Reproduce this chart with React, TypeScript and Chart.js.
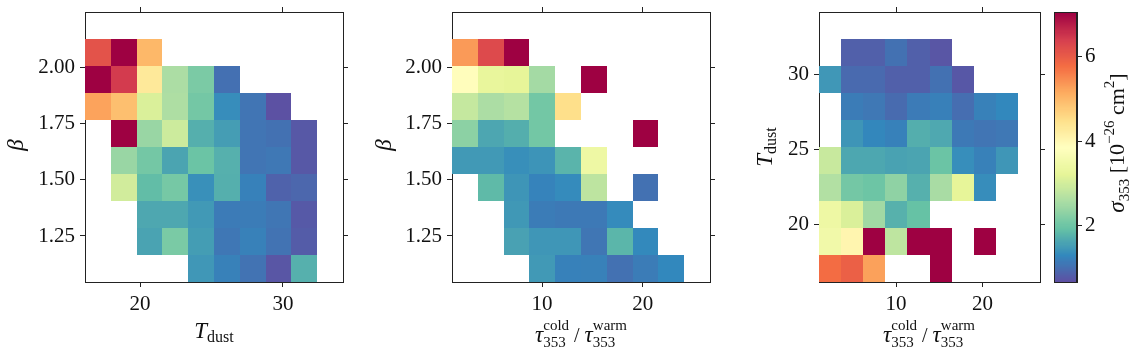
import React, { useEffect, useRef } from "react";
import { Chart, registerables } from "chart.js";
Chart.register(...registerables);

// ---------------- data ----------------
const N_BINS = 10;
const TDUST_RANGE = [16.15, 34.2];
const BETA_RANGE = [1.045, 2.248];
const RATIO_RANGE = [1.06, 26.68];
const SIGMA_RANGE = [0.675, 7.06];

const TDUST_TICKS_X = [20, 30];
const TDUST_TICKS_Y = [20, 25, 30];
const BETA_TICKS = [1.25, 1.5, 1.75, 2.0];
const RATIO_TICKS = [10, 20];
const SIGMA_TICKS = [2, 4, 6];

const _ = null;
// rows listed from top (highest bin) to bottom (lowest bin); columns left to right
const betaVsTdust: (number | null)[][] = [
  [_, _, _, _, _, _, _, _, _, _],
  [6.13, 7.1, 5.02, _, _, _, _, _, _, _],
  [7.1, 6.45, 4.32, 2.6, 2.15, 1.05, _, _, _, _],
  [5.25, 4.93, 3.1, 2.62, 2.08, 1.37, 1.1, 0.7, _, _],
  [_, 7.1, 2.42, 2.95, 1.74, 1.55, 1.1, 1.06, 0.78, _],
  [_, 2.42, 2.08, 1.62, 2.0, 1.75, 1.1, 1.13, 0.78, _],
  [_, 3.0, 1.9, 2.1, 1.4, 1.74, 1.24, 0.89, 0.94, _],
  [_, _, 1.66, 1.66, 1.5, 1.17, 1.18, 1.11, 0.79, _],
  [_, _, 1.61, 2.14, 1.54, 1.12, 1.23, 1.08, 0.82, _],
  [_, _, _, _, 1.48, 1.23, 1.08, 0.75, 1.75, _],
];

const betaVsRatio: (number | null)[][] = [
  [_, _, _, _, _, _, _, _, _, _],
  [5.34, 6.26, 7.1, _, _, _, _, _, _, _],
  [3.9, 3.3, 3.25, 2.53, _, 7.1, _, _, _, _],
  [2.87, 2.6, 2.7, 2.07, 4.51, _, _, _, _, _],
  [2.3, 1.64, 1.73, 2.07, _, _, _, 7.1, _, _],
  [1.5, 1.5, 1.39, 1.45, 1.8, 3.43, _, _, _, _],
  [_, 1.86, 1.46, 1.26, 1.35, 2.78, _, 1.06, _, _],
  [_, _, 1.49, 1.18, 1.15, 1.15, 1.35, _, _, _],
  [_, _, 1.59, 1.47, 1.47, 1.11, 1.82, 1.33, _, _],
  [_, _, _, 1.5, 1.24, 1.23, 1.06, 1.18, 1.31, _],
];

const tdustVsRatio: (number | null)[][] = [
  [_, _, _, _, _, _, _, _, _, _],
  [_, 0.87, 0.86, 1.06, 0.86, 0.75, _, _, _, _],
  [1.48, 0.98, 0.98, 0.86, 0.87, 1.06, 0.77, _, _, _],
  [_, 1.18, 1.13, 0.99, 1.17, 1.22, 1.02, 1.23, 1.31, _],
  [_, 1.46, 1.3, 1.24, 1.73, 1.67, 1.15, 1.1, 1.13, _],
  [2.9, 1.65, 1.65, 1.6, 1.62, 2.0, 1.38, 1.23, 1.47, _],
  [2.67, 2.08, 2.02, 2.33, 1.75, 2.57, 3.25, 1.37, _, _],
  [3.43, 3.1, 2.5, 1.77, 1.95, _, _, _, _, _],
  [3.5, 4.07, 7.1, 2.8, 7.1, 7.1, _, 7.1, _, _],
  [5.8, 5.96, 5.27, _, _, 7.1, _, _, _, _],
];

// ---------------- style ----------------
const SPECTRAL_R = [
  "#5e4fa2", "#3288bd", "#66c2a5", "#abdda4", "#e6f598", "#ffffbf",
  "#fee08b", "#fdae61", "#f46d43", "#d53e4f", "#9e0142",
];
const FAMILY = "'Liberation Serif', 'DejaVu Serif', serif";
const AX = "#222222";
const TXT = "#111111";
const TICK_FONT = { family: FAMILY, size: 21 };

function hexRgb(h: string) {
  return [parseInt(h.slice(1, 3), 16), parseInt(h.slice(3, 5), 16), parseInt(h.slice(5, 7), 16)];
}
const CM = SPECTRAL_R.map(hexRgb);
function cmap(v: number) {
  let t = (v - SIGMA_RANGE[0]) / (SIGMA_RANGE[1] - SIGMA_RANGE[0]);
  t = Math.max(0, Math.min(1, t));
  const p = t * (CM.length - 1);
  const i = Math.min(CM.length - 2, Math.floor(p));
  const f = p - i;
  const a = CM[i], b = CM[i + 1];
  const c = a.map((x, k) => Math.round(x + (b[k] - x) * f));
  return `rgb(${c[0]},${c[1]},${c[2]})`;
}

type Seg = { t: string; size: number; dy?: number; italic?: boolean; stack?: boolean };
type MathLabel = { segs: Seg[]; x: number; y: number; rot?: boolean };

function drawMath(ctx: CanvasRenderingContext2D, lab: MathLabel) {
  ctx.save();
  ctx.translate(lab.x, lab.y);
  if (lab.rot) ctx.rotate(-Math.PI / 2);
  ctx.fillStyle = TXT;
  ctx.textBaseline = "alphabetic";
  ctx.textAlign = "left";
  const placed: { s: Seg; start: number }[] = [];
  let cursor = 0;
  let prevStart = 0;
  for (const s of lab.segs) {
    ctx.font = `${s.italic ? "italic " : ""}${s.size}px ${FAMILY}`;
    const w = ctx.measureText(s.t).width;
    if (s.stack) {
      placed.push({ s, start: prevStart });
      cursor = Math.max(cursor, prevStart + w);
    } else {
      placed.push({ s, start: cursor });
      prevStart = cursor;
      cursor += w;
    }
  }
  const off = -cursor / 2;
  for (const p of placed) {
    ctx.font = `${p.s.italic ? "italic " : ""}${p.s.size}px ${FAMILY}`;
    ctx.fillText(p.s.t, off + p.start, p.s.dy || 0);
  }
  ctx.restore();
}

function labelPlugin(labels: MathLabel[]) {
  return {
    id: "mathLabels",
    afterDraw(chart: any) {
      for (const l of labels) drawMath(chart.ctx, l);
    },
  };
}

function heatPlugin(values: (number | null)[][], xr: number[], yr: number[]) {
  return {
    id: "heat",
    beforeDatasetsDraw(chart: any) {
      const { ctx, chartArea } = chart;
      const xs = chart.scales.x;
      const ys = chart.scales.y;
      const dx = (xr[1] - xr[0]) / N_BINS;
      const dy = (yr[1] - yr[0]) / N_BINS;
      ctx.save();
      ctx.beginPath();
      ctx.rect(chartArea.left, chartArea.top, chartArea.right - chartArea.left, chartArea.bottom - chartArea.top);
      ctx.clip();
      const nRows = values.length;
      values.forEach((row, ri) => {
        const r = nRows - 1 - ri;
        row.forEach((v, c) => {
          if (v === null) return;
          const x0 = Math.round(xs.getPixelForValue(xr[0] + c * dx));
          const x1 = Math.round(xs.getPixelForValue(xr[0] + (c + 1) * dx));
          const y0 = Math.round(ys.getPixelForValue(yr[0] + (r + 1) * dy));
          const y1 = Math.round(ys.getPixelForValue(yr[0] + r * dy));
          ctx.fillStyle = cmap(v);
          ctx.fillRect(x0, y0, x1 - x0, y1 - y0);
        });
      });
      ctx.restore();
    },
  };
}

function axis(
  range: number[], ticks: number[], fmt: (v: number) => string,
  position: string, size: number, showLabels: boolean, pad = 5
) {
  const vertical = position === "left" || position === "right";
  return {
    type: "linear",
    position,
    min: range[0],
    max: range[1],
    z: 1,
    afterBuildTicks: (s: any) => {
      s.ticks = ticks.map((v) => ({ value: v }));
    },
    afterFit: (s: any) => {
      if (vertical) s.width = size;
      else s.height = size;
      s.paddingLeft = 0;
      s.paddingRight = 0;
      s.paddingTop = 0;
      s.paddingBottom = 0;
    },
    grid: { drawOnChartArea: false, drawTicks: true, tickLength: 5, tickColor: AX, color: AX, lineWidth: 1, tickWidth: 1 },
    border: { display: true, color: AX, width: 1 },
    ticks: {
      display: showLabels,
      padding: pad,
      maxRotation: 0,
      minRotation: 0,
      autoSkip: false,
      color: TXT,
      font: TICK_FONT,
      callback: (v: any) => fmt(Number(v)),
    },
  };
}

const fmtInt = (v: number) => String(Math.round(v));
const fmt2 = (v: number) => v.toFixed(2);

function heatChart(
  canvas: HTMLCanvasElement, values: (number | null)[][],
  xr: number[], yr: number[], xt: number[], yt: number[], yfmt: (v: number) => string,
  leftW: number, rightW: number, labels: MathLabel[]
) {
  return new Chart(canvas, {
    type: "scatter",
    data: { datasets: [{ data: [], pointRadius: 0 }] },
    options: {
      animation: false,
      responsive: false,
      events: [],
      layout: { padding: 0 },
      plugins: { legend: { display: false }, tooltip: { enabled: false } },
      scales: {
        x: axis(xr, xt, fmtInt, "bottom", 72, true),
        x2: axis(xr, xt, fmtInt, "top", 12, false),
        y: axis(yr, yt, yfmt, "left", leftW, true),
        y2: axis(yr, yt, yfmt, "right", rightW, false),
      } as any,
    },
    plugins: [heatPlugin(values, xr, yr), labelPlugin(labels)],
  } as any);
}

const ratioLabel = (x: number): MathLabel => ({
  x,
  y: 341.5,
  segs: [
    { t: "τ", size: 23, italic: true },
    { t: "cold", size: 15, dy: -11.5 },
    { t: "353", size: 15, dy: 5, stack: true },
    { t: " / ", size: 20 },
    { t: "τ", size: 23, italic: true },
    { t: "warm", size: 15, dy: -11.5 },
    { t: "353", size: 15, dy: 5, stack: true },
  ],
});

export default function App() {
  const r1 = useRef<HTMLCanvasElement>(null);
  const r2 = useRef<HTMLCanvasElement>(null);
  const r3 = useRef<HTMLCanvasElement>(null);
  const r4 = useRef<HTMLCanvasElement>(null);

  useEffect(() => {
    const charts: Chart[] = [];
    charts.push(
      heatChart(r1.current!, betaVsTdust, TDUST_RANGE, BETA_RANGE, TDUST_TICKS_X, BETA_TICKS, fmt2, 85, 27, [
        { x: 214, y: 338, segs: [{ t: "T", size: 23, italic: true }, { t: "dust", size: 16, dy: 4 }] },
        { x: 23, y: 145, rot: true, segs: [{ t: "β", size: 23, italic: true }] },
      ])
    );
    charts.push(
      heatChart(r2.current!, betaVsRatio, RATIO_RANGE, BETA_RANGE, RATIO_TICKS, BETA_TICKS, fmt2, 82, 10, [
        ratioLabel(581 - 370),
        { x: 391 - 370, y: 145, rot: true, segs: [{ t: "β", size: 23, italic: true }] },
      ])
    );
    charts.push(
      heatChart(r3.current!, tdustVsRatio, RATIO_RANGE, TDUST_RANGE, RATIO_TICKS, TDUST_TICKS_Y, fmtInt, 99, 6, [
        ratioLabel(929 - 720),
        { x: 772 - 720, y: 147, rot: true, segs: [{ t: "T", size: 23, italic: true }, { t: "dust", size: 16, dy: 4 }] },
      ])
    );
    const colorbarPlugin = {
      id: "colorbar",
      beforeDatasetsDraw(chart: any) {
        const { ctx, chartArea } = chart;
        const ys = chart.scales.y;
        const n = 256;
        const step = (SIGMA_RANGE[1] - SIGMA_RANGE[0]) / n;
        for (let i = 0; i < n; i++) {
          const v0 = SIGMA_RANGE[0] + i * step;
          const y0 = ys.getPixelForValue(v0 + step);
          const y1 = ys.getPixelForValue(v0);
          ctx.fillStyle = cmap(v0 + step / 2);
          ctx.fillRect(chartArea.left, Math.floor(y0), chartArea.right - chartArea.left, Math.ceil(y1) - Math.floor(y0));
        }
      },
      afterDraw(chart: any) {
        const { ctx, chartArea } = chart;
        ctx.save();
        ctx.strokeStyle = AX;
        ctx.lineWidth = 1;
        ctx.strokeRect(Math.round(chartArea.left) + 0.5, Math.round(chartArea.top) + 0.5,
          Math.round(chartArea.right - chartArea.left) - 1, Math.round(chartArea.bottom - chartArea.top));
        ctx.restore();
      },
    };
    charts.push(
      new Chart(r4.current!, {
        type: "scatter",
        data: { datasets: [{ data: [], pointRadius: 0 }] },
        options: {
          animation: false,
          responsive: false,
          events: [],
          layout: { padding: { top: 12, bottom: 72, left: 8, right: 0 } },
          plugins: { legend: { display: false }, tooltip: { enabled: false } },
          scales: {
            x: { display: false, min: 0, max: 1 },
            y: axis(SIGMA_RANGE, SIGMA_TICKS, fmtInt, "right", 59, true, 3),
          } as any,
        },
        plugins: [
          colorbarPlugin,
          labelPlugin([
            {
              x: 1124 - 1046,
              y: 143,
              rot: true,
              segs: [
                { t: "σ", size: 23, italic: true },
                { t: "353", size: 15, dy: 5 },
                { t: " [10", size: 22 },
                { t: "−26", size: 15, dy: -10 },
                { t: " cm", size: 22 },
                { t: "2", size: 15, dy: -10 },
                { t: "]", size: 22 },
              ],
            },
          ]),
        ],
      } as any)
    );
    return () => charts.forEach((c) => c.destroy());
  }, []);

  const cs = (left: number): React.CSSProperties => ({ position: "absolute", left, top: 0 });
  return (
    <div style={{ position: "absolute", left: 0, top: 0, width: 1136, height: 354, background: "#ffffff", overflow: "hidden" }}>
      <canvas ref={r1} width={370} height={354} style={cs(0)} />
      <canvas ref={r2} width={350} height={354} style={cs(370)} />
      <canvas ref={r3} width={326} height={354} style={cs(720)} />
      <canvas ref={r4} width={90} height={354} style={cs(1046)} />
    </div>
  );
}
